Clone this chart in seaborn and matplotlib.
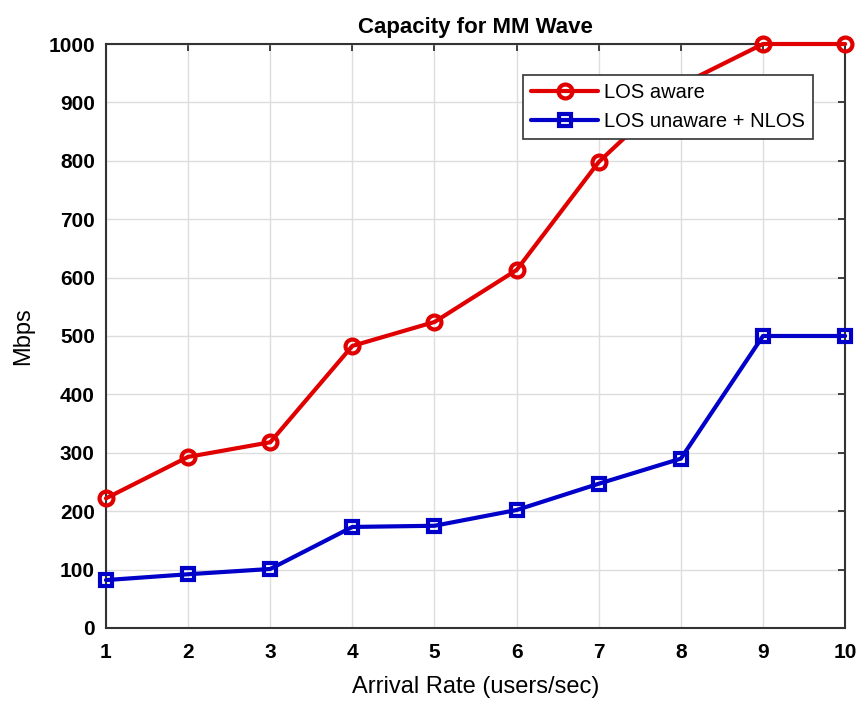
import matplotlib
matplotlib.use("Agg")
import matplotlib.pyplot as plt
import seaborn as sns
import pandas as pd

# data
arrival_rate = [1, 2, 3, 4, 5, 6, 7, 8, 9, 10]
los_aware = [222, 293, 318, 483, 524, 613, 798, 930, 1000, 1000]
los_unaware_nlos = [82, 92, 101, 173, 175, 202, 247, 290, 500, 500]

sns.set_style("whitegrid")
plt.rcParams['font.family'] = ['Liberation Sans', 'DejaVu Sans']

fig = plt.figure(figsize=(8.58, 7.04), dpi=100)
ax = fig.add_axes([0.1235, 0.108, 0.8615, 0.8295])

sns.lineplot(x=arrival_rate, y=los_aware, ax=ax, color="#e00000", lw=3,
             marker="o", ms=10, mfc="none", mew=3, mec="#e00000",
             label="LOS aware", clip_on=False, zorder=5)
sns.lineplot(x=arrival_rate, y=los_unaware_nlos, ax=ax, color="#0000c8", lw=3,
             marker="s", ms=9, mfc="none", mew=3, mec="#0000c8",
             label="LOS unaware + NLOS", clip_on=False, zorder=5)

ax.set_xlim(1, 10)
ax.set_ylim(0, 1000)
ax.set_xticks(range(1, 11))
ax.set_yticks(range(0, 1001, 100))
ax.tick_params(direction="in", length=5, labelsize=15, width=1.2, colors="#222222",
               top=True, right=True)
ax.tick_params(axis="x", pad=11)
ax.tick_params(axis="y", pad=8)
for lbl in ax.get_xticklabels() + ax.get_yticklabels():
    lbl.set_fontweight("bold")
    lbl.set_color("black")
ax.grid(True, color="#dddddd", lw=1)
for s in ax.spines.values():
    s.set_visible(True)
    s.set_color("#333333")
    s.set_linewidth(1.5)

ax.set_title("Capacity for MM Wave", fontsize=16, fontweight="bold", pad=8, color="black")
ax.set_xlabel("Arrival Rate (users/sec)", fontsize=17, labelpad=10, color="black")
ax.set_ylabel("Mbps", fontsize=17, labelpad=10, color="black")

leg = ax.legend(loc="upper right", bbox_to_anchor=(0.97, 0.964), fontsize=14.5,
                frameon=True, fancybox=False, borderpad=0.4, handlelength=3.3,
                handletextpad=0.3)
leg.get_frame().set_edgecolor("#333333")
leg.get_frame().set_linewidth(1.2)
leg.get_frame().set_alpha(1)
for t in leg.get_texts():
    t.set_color("black")

fig.savefig("out.png", dpi=100)
